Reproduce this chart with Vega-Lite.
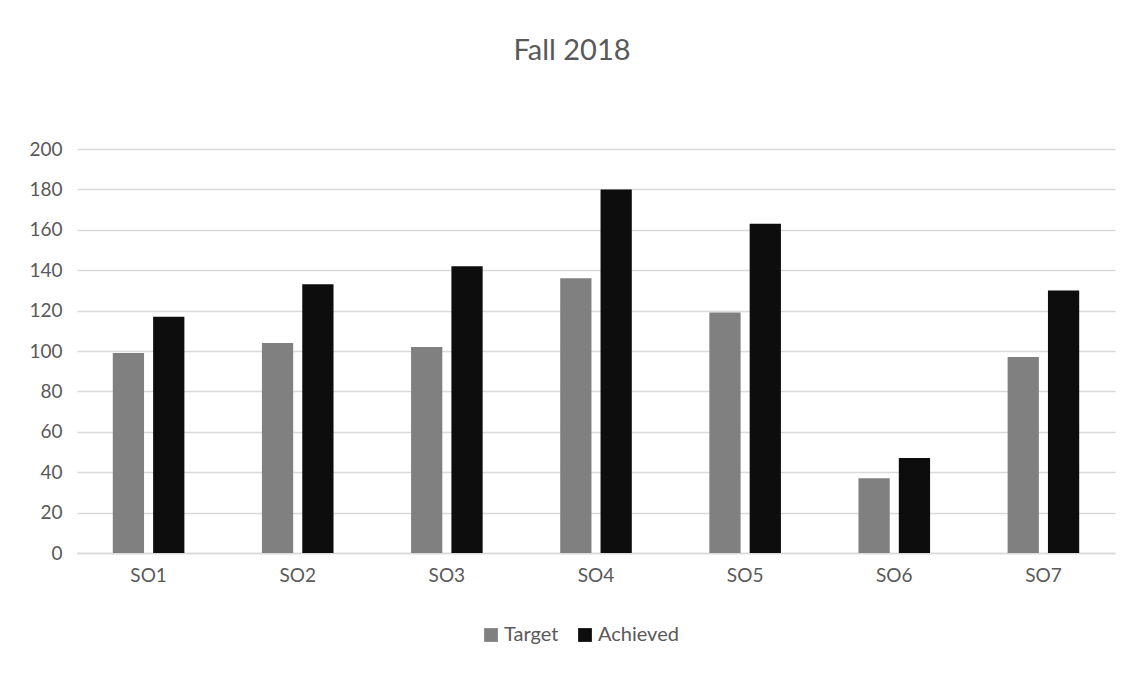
{
  "$schema": "https://vega.github.io/schema/vega-lite/v6.json",
  "autosize": "none",
  "width": 1038,
  "height": 404,
  "padding": {"left": 77, "top": 149, "right": 30, "bottom": 122},
  "background": "white",
  "title": {
    "text": "Fall 2018",
    "fontSize": 29,
    "font": "Lato",
    "fontWeight": "normal",
    "color": "#595959",
    "anchor": "middle",
    "dx": -24,
    "offset": 74
  },
  "data": {
    "values": [
      {"so": "SO1", "series": "Target", "value": 99},
      {"so": "SO1", "series": "Achieved", "value": 117},
      {"so": "SO2", "series": "Target", "value": 104},
      {"so": "SO2", "series": "Achieved", "value": 133},
      {"so": "SO3", "series": "Target", "value": 102},
      {"so": "SO3", "series": "Achieved", "value": 142},
      {"so": "SO4", "series": "Target", "value": 136},
      {"so": "SO4", "series": "Achieved", "value": 180},
      {"so": "SO5", "series": "Target", "value": 119},
      {"so": "SO5", "series": "Achieved", "value": 163},
      {"so": "SO6", "series": "Target", "value": 37},
      {"so": "SO6", "series": "Achieved", "value": 47},
      {"so": "SO7", "series": "Target", "value": 97},
      {"so": "SO7", "series": "Achieved", "value": 130}
    ]
  },
  "mark": {"type": "bar"},
  "encoding": {
    "x": {
      "field": "so",
      "type": "nominal",
      "title": null,
      "scale": {"paddingInner": 0.52, "paddingOuter": 0.24},
      "axis": {
        "labelAngle": 0,
        "labelFont": "Lato",
        "labelFontSize": 19,
        "labelColor": "#595959",
        "labelPadding": 13,
        "ticks": false,
        "domainColor": "#d9d9d9",
        "domainWidth": 1.5,
        "grid": false
      }
    },
    "xOffset": {
      "field": "series",
      "type": "nominal",
      "sort": ["Target", "Achieved"],
      "scale": {"paddingInner": 0.225, "paddingOuter": 0}
    },
    "y": {
      "field": "value",
      "type": "quantitative",
      "title": null,
      "scale": {"domain": [0, 200], "nice": false},
      "axis": {
        "values": [0, 20, 40, 60, 80, 100, 120, 140, 160, 180, 200],
        "labelFont": "Lato",
        "labelFontSize": 19,
        "labelColor": "#595959",
        "labelPadding": 15,
        "ticks": false,
        "domain": false,
        "gridColor": "#d9d9d9",
        "gridWidth": 1.5
      }
    },
    "color": {
      "field": "series",
      "type": "nominal",
      "title": null,
      "scale": {"domain": ["Target", "Achieved"], "range": ["#808080", "#0d0d0d"]},
      "legend": {
        "orient": "none",
        "legendX": 404,
        "legendY": 476,
        "direction": "horizontal",
        "symbolType": "square",
        "symbolSize": 190,
        "symbolStrokeWidth": 0,
        "labelFont": "Lato",
        "labelFontSize": 20,
        "labelColor": "#595959",
        "columnPadding": 16,
        "labelOffset": 3
      }
    }
  },
  "config": {
    "view": {"stroke": null}
  }
}
